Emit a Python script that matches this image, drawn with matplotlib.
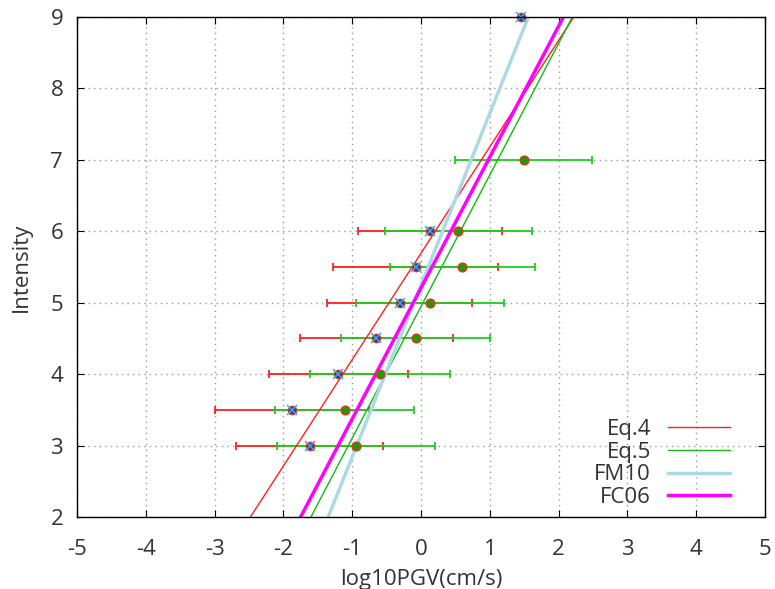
import numpy as np
import matplotlib.pyplot as plt

plt.rcParams['font.family'] = ['Open Sans', 'DejaVu Sans']
plt.rcParams['axes.unicode_minus'] = False

# observed data set A (blue star markers, red error bars)
int_a = [3, 3.5, 4, 4.5, 5, 5.5, 6, 9]
pgv_a = [-1.62, -1.87, -1.20, -0.65, -0.31, -0.08, 0.13, 1.46]
err_a = [1.07, 1.12, 1.01, 1.11, 1.05, 1.20, 1.05, 1.05]

# observed data set B (green dots, green error bars)
int_b = [3, 3.5, 4, 4.5, 5, 5.5, 6, 7]
pgv_b = [-0.95, -1.11, -0.60, -0.08, 0.13, 0.60, 0.54, 1.49]
err_b = [1.15, 1.01, 1.02, 1.08, 1.07, 1.05, 1.07, 1.00]

# regression lines: log10PGV at intensity 2 and 9
line_int = [2, 9]
eq4 = [-2.48, 2.22]
eq5 = [-1.60, 2.20]
fm10 = [-1.35, 1.56]
fc06 = [-1.75, 2.07]

fig = plt.figure(figsize=(7.75, 5.89), dpi=100)
ax = fig.add_axes([0.0994, 0.1222, 0.8877, 0.8489])

# bars lying on the top border are hidden in the original
ya = np.array(int_a)
inside = ya < 9
ax.errorbar(np.array(pgv_a)[inside], ya[inside], xerr=np.array(err_a)[inside],
            fmt='none', ecolor='#ff2020', elinewidth=1.3, capsize=3,
            capthick=1.3, zorder=2)
ax.errorbar(pgv_b, int_b, xerr=err_b, fmt='none', ecolor='#20cc20',
            elinewidth=1.3, capsize=3, capthick=1.3, zorder=2.1)

ax.plot(eq4, line_int, color='#ff2020', lw=1.0, label='Eq.4', zorder=3)
ax.plot(eq5, line_int, color='#10bb10', lw=1.0, label='Eq.5', zorder=3)
ax.plot(fm10, line_int, color='#add8e6', lw=2.5, label='FM10', zorder=3)
ax.plot(fc06, line_int, color='#ff00ff', lw=2.5, label='FC06', zorder=3)

ax.plot(pgv_b, int_b, 'o', ms=6, mfc='#10a010', mec='#d04010', mew=1.3,
        zorder=4, clip_on=False)
ax.plot(pgv_a, int_a, 'o', ms=6, mfc='#1a3f9a', mec='#d04010', mew=1.0,
        zorder=5, clip_on=False)
ax.plot(pgv_a, int_a, 'x', ms=7, color='#4aa3f0', mew=1.1,
        zorder=6, clip_on=False)

fs = 16
txt = '#333333'
ax.set_xlim(-5, 5)
ax.set_ylim(2, 9)
ax.set_xticks(np.arange(-5, 6, 1))
ax.set_yticks(np.arange(2, 10, 1))
ax.tick_params(direction='in', top=True, right=True, length=5, labelsize=fs,
               labelcolor=txt)
ax.tick_params(axis='x', pad=16)
ax.tick_params(axis='y', pad=10)
ax.grid(True, color='#999999', linestyle=(0, (1, 3)), lw=1.0)
for s in ax.spines.values():
    s.set_linewidth(1.0)
    s.set_zorder(7)

ax.set_xlabel('log10PGV(cm/s)', fontsize=fs, labelpad=6, color=txt)
ax.set_ylabel('Intensity', fontsize=fs, labelpad=13, color=txt)

leg = ax.legend(loc='lower right', frameon=False, markerfirst=False,
                handlelength=2.8, handletextpad=0.75, fontsize=fs,
                labelspacing=0.08, bbox_to_anchor=(0.962, 0.0),
                borderaxespad=0)
for t in leg.get_texts():
    t.set_color(txt)

fig.savefig('out.png', dpi=100)
